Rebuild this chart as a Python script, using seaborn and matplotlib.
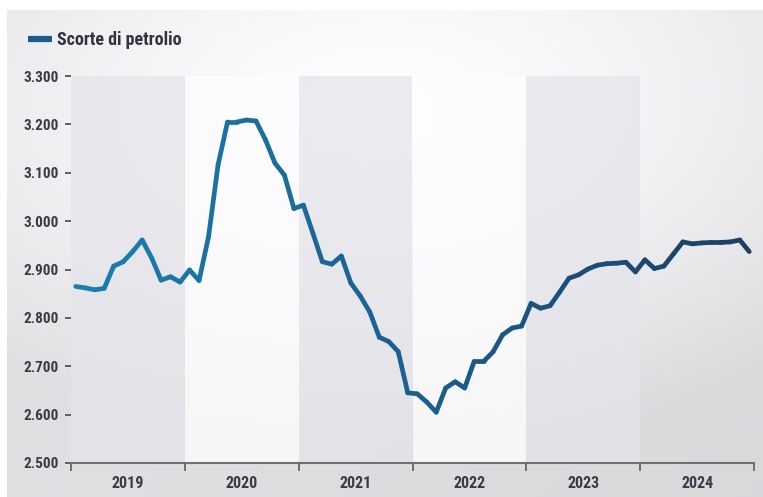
import numpy as np
import pandas as pd
import matplotlib
matplotlib.use("Agg")
import matplotlib.pyplot as plt
from matplotlib import font_manager
from matplotlib.colors import LinearSegmentedColormap, to_hex
from matplotlib.lines import Line2D
import seaborn as sns

# Monthly oil stocks, Jan 2019 - Dec 2024
years = [2019, 2020, 2021, 2022, 2023, 2024]
stocks = [
    2865, 2862, 2858, 2861, 2907, 2916, 2937, 2961, 2924, 2878, 2885, 2874,
    2899, 2877, 2968, 3116, 3205, 3205, 3209, 3207, 3168, 3120, 3095, 3026,
    3033, 2975, 2916, 2911, 2928, 2872, 2845, 2812, 2760, 2751, 2730, 2645,
    2643, 2626, 2605, 2655, 2668, 2655, 2710, 2710, 2730, 2765, 2779, 2783,
    2830, 2820, 2825, 2853, 2882, 2889, 2901, 2909, 2912, 2913, 2915, 2895,
    2920, 2902, 2907, 2932, 2957, 2953, 2955, 2956, 2956, 2957, 2961, 2937,
]
y_ticks = [2500, 2600, 2700, 2800, 2900, 3000, 3100, 3200, 3300]
series_label = "Scorte di petrolio"

sns.set_theme(style="white")
available = {f.name for f in font_manager.fontManager.ttflist}
base_font = next((f for f in ["Liberation Sans Narrow", "Roboto Condensed",
                              "Liberation Sans"] if f in available), "DejaVu Sans")
plt.rcParams["font.family"] = [base_font, "DejaVu Sans"]

W, H = 763, 497
fig = plt.figure(figsize=(W / 100, H / 100), dpi=100)
fig.patch.set_facecolor("white")

# soft panel background
bg = fig.add_axes([7 / W, 0, 1 - 7 / W, 1 - 10 / H], zorder=-5)
gx, gy = np.meshgrid(np.linspace(0, 1, 400), np.linspace(0, 1, 300))
dist = np.sqrt(((gx - 0.5) / 1.0) ** 2 + ((gy - 0.78) / 0.9) ** 2)
shade = 1.0 - 0.12 * np.clip(dist / 0.75, 0, 1) ** 1.4
shade = shade - 0.03 * gx * (1 - gy)
img = np.dstack([shade, shade, shade + 0.012]).clip(0, 1)
bg.imshow(img, origin="lower", aspect="auto", extent=[0, 1, 0, 1])
bg.axis("off")

ax = fig.add_axes([71 / W, 1 - 463 / H, (754 - 71) / W, (463 - 76) / H])
ax.set_facecolor("none")

# alternating year bands
for i, yr in enumerate(years):
    if i % 2 == 0:
        ax.axvspan(yr, yr + 1, color="#e4e4ea", alpha=0.75, lw=0, zorder=0)
    elif yr != years[-1]:
        ax.axvspan(yr, yr + 1, color="#fdfdfe", alpha=0.8, lw=0, zorder=0)

# gradient-coloured line, drawn segment by segment
t = [years[0] + (m + 0.5) / 12 for m in range(len(stocks))]
rows = []
for i in range(len(stocks) - 1):
    rows.append({"t": t[i], "v": stocks[i], "seg": i})
    rows.append({"t": t[i + 1], "v": stocks[i + 1], "seg": i})
df = pd.DataFrame(rows)
cmap = LinearSegmentedColormap.from_list("oil", ["#1a7fb0", "#1b5f8e", "#1c3f66"])
n_seg = len(stocks) - 1
palette = [to_hex(cmap(i / (n_seg - 1))) for i in range(n_seg)]
sns.lineplot(data=df, x="t", y="v", hue="seg", palette=palette, estimator=None,
             sort=False, legend=False, linewidth=3.4, solid_capstyle="round",
             solid_joinstyle="round", ax=ax, zorder=3)

ax.set_xlim(years[0], years[-1] + 1)
ax.set_ylim(y_ticks[0], y_ticks[-1])
ax.set_xlabel("")
ax.set_ylabel("")

ax.set_yticks(y_ticks)
ax.set_yticklabels([f"{v:,}".replace(",", ".") for v in y_ticks])
ax.set_xticks(list(range(years[0], years[-1] + 2)))
ax.set_xticklabels([])
ax.set_xticks([yr + 0.5 for yr in years], minor=True)
ax.set_xticklabels([str(yr) for yr in years], minor=True)

ax.tick_params(axis="y", which="major", left=True, length=4, width=1.3,
               color="#555555", pad=5, labelsize=11, labelcolor="#3b3b48")
ax.tick_params(axis="x", which="major", bottom=True, length=6, width=1.3,
               color="#666666", direction="out")
ax.tick_params(axis="x", which="minor", bottom=False, length=0, pad=9,
               labelsize=11.5, labelcolor="#3b3b48")
for lab in ax.get_yticklabels() + ax.get_xticklabels(minor=True):
    lab.set_fontweight("bold")

for side in ["left", "top", "right"]:
    ax.spines[side].set_visible(False)
ax.spines["bottom"].set_color("#6f6f75")
ax.spines["bottom"].set_linewidth(1.5)
ax.grid(False)

handle = Line2D([0], [0], color="#1d5b88", linewidth=4.5, solid_capstyle="butt")
fig.legend([handle], [series_label], loc="upper left",
           bbox_to_anchor=(12 / W, 1 - 15 / H), frameon=False,
           handlelength=1.3, handletextpad=0.3,
           prop={"family": [base_font, "DejaVu Sans"], "weight": "bold", "size": 13},
           labelcolor="#333340")

fig.savefig("out.png", dpi=100, facecolor=fig.get_facecolor())
